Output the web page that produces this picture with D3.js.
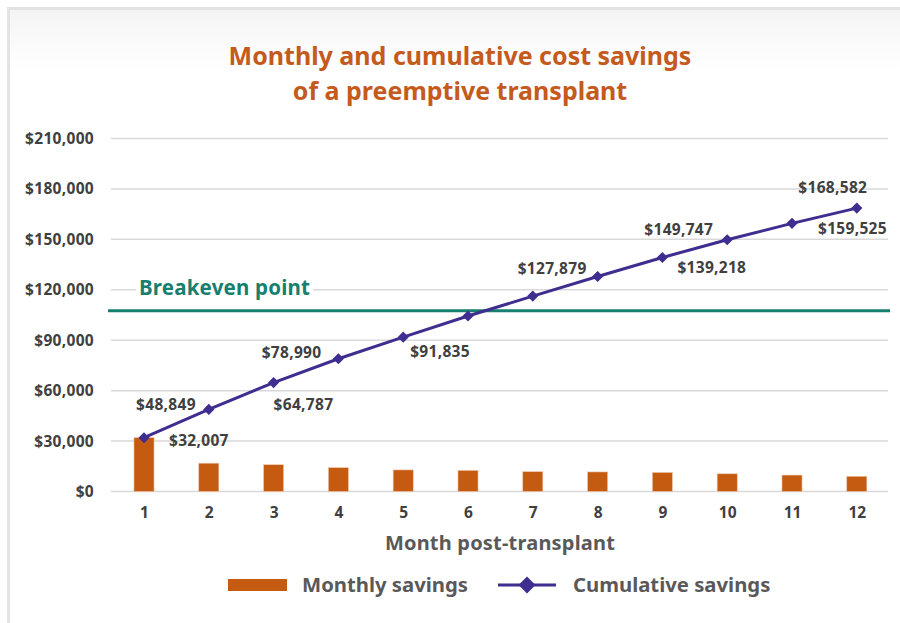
<!DOCTYPE html>
<html lang="en">
<head>
<meta charset="utf-8">
<title>Cost savings</title>
<script src="https://d3js.org/d3.v7.min.js"></script>
<style>
  body { margin: 0; background: #fff; }
  svg { display: block; font-family: "Noto Sans", "Open Sans", sans-serif; font-weight: bold; }
</style>
</head>
<body>
<svg id="chart" width="900" height="623"></svg>
<script>
// chart data
var months = ["1", "2", "3", "4", "5", "6", "7", "8", "9", "10", "11", "12"];
var monthlySavings = [32007, 16842, 15938, 14203, 12845, 12600, 11800, 11644, 11339, 10529, 9778, 9057];
var cumulativeSavings = [32007, 48849, 64787, 78990, 91835, 104435, 116235, 127879, 139218, 149747, 159525, 168582];
var cumulativeLabels = ["$32,007", "$48,849", "$64,787", "$78,990", "$91,835", "", "", "$127,879", "$139,218", "$149,747", "$159,525", "$168,582"];
var yTicks = [0, 30000, 60000, 90000, 120000, 150000, 180000, 210000];
var breakeven = 107500;

// label placement (dx, dy from the point, anchor), hand-tuned like the original
var labelPlace = [
  [25, 8, "start"], [-13, 1, "end"], [0, 27, "start"], [-17, -1, "end"], [7, 20, "start"], null, null,
  [-11, -3, "end"], [15, 16, "start"], [-14, -5, "end"], [26, 11, "start"], [-24, -15, "middle"]
];

var svg = d3.select("#chart");
var orange = "#c55a11", purple = "#3f2d8f", green = "#177f6f";

// faint shadow at the top + frame
var defs = svg.append("defs");
var grad = defs.append("linearGradient").attr("id", "topfade").attr("x1", 0).attr("y1", 0).attr("x2", 0).attr("y2", 1);
grad.append("stop").attr("offset", "0%").attr("stop-color", "#f4f4f4");
grad.append("stop").attr("offset", "100%").attr("stop-color", "#ffffff");
svg.append("rect").attr("x", 10).attr("y", 10).attr("width", 900).attr("height", 60).attr("fill", "url(#topfade)");
svg.append("rect").attr("x", 8.5).attr("y", 8.5).attr("width", 1000).attr("height", 1000)
  .attr("fill", "none").attr("stroke", "#e3e3e3").attr("stroke-width", 3);

// title
svg.append("text").attr("x", 460).attr("y", 65).attr("text-anchor", "middle")
  .attr("font-size", 25).attr("fill", "#c55a1d").text("Monthly and cumulative cost savings");
svg.append("text").attr("x", 460).attr("y", 100).attr("text-anchor", "middle")
  .attr("font-size", 25).attr("fill", "#c55a1d").text("of a preemptive transplant");

var x = d3.scalePoint().domain(months).range([111.6, 889.2]).padding(0.5);
var y = d3.scaleLinear().domain([0, 210000]).range([491.5, 138.5]);
var barW = x.step() * 0.31;

// gridlines
svg.append("g").selectAll("line").data(yTicks).enter().append("line")
  .attr("x1", 111).attr("x2", 888)
  .attr("y1", function(d){ return y(d); }).attr("y2", function(d){ return y(d); })
  .attr("stroke", "#d9d9d9").attr("stroke-width", 1.5);

// y axis labels
var yAxis = d3.axisLeft(y).tickValues(yTicks).tickSize(0).tickPadding(0)
  .tickFormat(function(d){ return "$" + d3.format(",")(d); });
var ya = svg.append("g").attr("transform", "translate(94,0)").call(yAxis);
ya.attr("font-family", null).attr("font-size", null);
ya.select(".domain").remove();
ya.selectAll("text").attr("font-size", 15.5).attr("letter-spacing", 0.3).attr("fill", "#404040");

// x axis labels
var xAxis = d3.axisBottom(x).tickSize(0).tickPadding(0);
var xa = svg.append("g").attr("transform", "translate(0,507)").call(xAxis);
xa.attr("font-family", null).attr("font-size", null);
xa.select(".domain").remove();
xa.selectAll("text").attr("font-size", 15.5).attr("fill", "#404040");

svg.append("text").attr("x", 500).attr("y", 550).attr("text-anchor", "middle")
  .attr("font-size", 20).attr("letter-spacing", 0.2).attr("fill", "#595959").text("Month post-transplant");

// bars
svg.append("g").selectAll("rect").data(monthlySavings).enter().append("rect")
  .attr("x", function(d, i){ return x(months[i]) - barW / 2; })
  .attr("y", function(d){ return y(d); })
  .attr("width", barW)
  .attr("height", function(d){ return y(0) - y(d); })
  .attr("fill", orange).attr("stroke", "#f0c9ad").attr("stroke-width", 0.6);

// breakeven line
svg.append("line").attr("x1", 108).attr("x2", 890)
  .attr("y1", y(breakeven)).attr("y2", y(breakeven))
  .attr("stroke", green).attr("stroke-width", 3);
var bkText = svg.append("text").attr("x", 139).attr("y", 295)
  .attr("font-size", 20.5).attr("letter-spacing", 0.2).attr("fill", green).text("Breakeven point");
var bb = bkText.node().getBBox();
svg.insert("rect", function(){ return bkText.node(); })
  .attr("x", bb.x - 3).attr("y", bb.y + 2).attr("width", bb.width + 6).attr("height", bb.height - 4)
  .attr("fill", "#fff");

// cumulative line
var line = d3.line()
  .x(function(d, i){ return x(months[i]); })
  .y(function(d){ return y(d); });
svg.append("path").datum(cumulativeSavings).attr("d", line)
  .attr("fill", "none").attr("stroke", purple).attr("stroke-width", 3);
svg.append("g").selectAll("path").data(cumulativeSavings).enter().append("path")
  .attr("d", d3.symbol().type(d3.symbolSquare).size(62))
  .attr("transform", function(d, i){ return "translate(" + x(months[i]) + "," + y(d) + ") rotate(45)"; })
  .attr("fill", purple);

// data labels
svg.append("g").selectAll("text").data(cumulativeSavings).enter()
  .filter(function(d, i){ return cumulativeLabels[i] !== ""; })
  .append("text")
  .attr("x", function(d){ var i = cumulativeSavings.indexOf(d); return x(months[i]) + labelPlace[i][0]; })
  .attr("y", function(d){ var i = cumulativeSavings.indexOf(d); return y(d) + labelPlace[i][1]; })
  .attr("text-anchor", function(d){ return labelPlace[cumulativeSavings.indexOf(d)][2]; })
  .attr("font-size", 15.5).attr("letter-spacing", 0.3).attr("fill", "#404040")
  .text(function(d){ return cumulativeLabels[cumulativeSavings.indexOf(d)]; });

// legend
var lg = svg.append("g");
lg.append("rect").attr("x", 228).attr("y", 579).attr("width", 59).attr("height", 12).attr("fill", orange);
lg.append("text").attr("x", 302).attr("y", 592).attr("font-size", 20.3).attr("fill", "#595959").text("Monthly savings");
lg.append("line").attr("x1", 498).attr("x2", 556).attr("y1", 585).attr("y2", 585)
  .attr("stroke", purple).attr("stroke-width", 3);
lg.append("path").attr("d", d3.symbol().type(d3.symbolSquare).size(144))
  .attr("transform", "translate(527,585) rotate(45)").attr("fill", purple);
lg.append("text").attr("x", 573).attr("y", 592).attr("font-size", 20.3).attr("fill", "#595959").text("Cumulative savings");
</script>
</body>
</html>
